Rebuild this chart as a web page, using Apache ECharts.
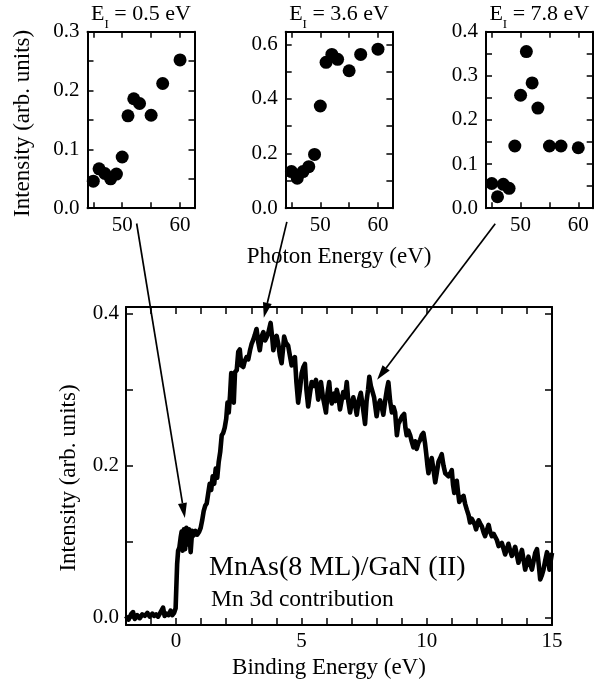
<!DOCTYPE html>
<html><head><meta charset="utf-8">
<script src="https://cdn.jsdelivr.net/npm/echarts@6/dist/echarts.min.js"></script>
<style>html,body{margin:0;padding:0;background:#fff}#c{width:597px;height:687px}</style>
</head><body><div id="c"></div>
<script>
// ---- data ----
const bindingEnergy = [-2.0,-1.9,-1.8,-1.72,-1.65,-1.55,-1.45,-1.35,-1.25,-1.15,-1.05,-0.95,-0.88,-0.8,-0.72,-0.65,-0.58,-0.52,-0.46,-0.38,-0.3,-0.22,-0.15,-0.08,-0.02,
0.04,0.08,0.13,0.18,0.22,0.26,0.31,0.36,0.41,0.46,0.52,0.58,0.64,0.7,0.77,0.84,0.92,0.98,
1.04,1.1,1.16,1.22,1.28,1.34,1.4,1.46,1.52,1.58,1.64,1.7,1.76,1.82,1.88,1.94,
2.0,2.05,2.1,2.15,2.2,2.25,2.3,2.35,2.42,2.48,2.54,2.6,2.68,2.74,2.81,2.88,2.95,
3.01,3.08,3.14,3.21,3.28,3.34,3.41,3.48,3.55,3.61,3.68,3.77,3.83,3.88,3.95,
4.01,4.08,4.14,4.21,4.27,4.31,4.38,4.47,4.54,4.61,4.68,4.74,4.8,4.87,4.94,
5.01,5.08,5.14,5.2,5.27,5.34,5.41,5.5,5.58,5.67,5.73,5.78,5.86,5.92,5.98,
6.04,6.11,6.16,6.21,6.3,6.36,6.41,6.48,6.54,6.6,6.67,6.74,6.81,6.87,6.94,
7.01,7.07,7.14,7.21,7.28,7.37,7.44,7.5,7.54,7.6,7.66,7.71,7.77,7.83,7.9,7.96,
8.0,8.07,8.14,8.2,8.27,8.34,8.41,8.47,8.54,8.61,8.68,8.74,8.81,8.87,8.94,
9.02,9.1,9.15,9.2,9.27,9.34,9.4,9.47,9.54,9.6,9.67,9.74,9.8,9.87,9.93,9.98,
10.03,10.07,10.13,10.2,10.27,10.34,10.4,10.47,10.54,10.6,10.67,10.74,10.8,10.87,10.94,
11.0,11.05,11.1,11.15,11.2,11.25,11.3,11.38,11.47,11.53,11.6,11.67,11.73,11.8,11.87,11.92,11.97,
12.02,12.07,12.13,12.2,12.27,12.33,12.4,12.47,12.53,12.6,12.67,12.73,12.8,12.87,12.93,
13.0,13.07,13.13,13.2,13.26,13.33,13.4,13.47,13.53,13.6,13.66,13.73,13.8,13.87,13.93,
14.0,14.06,14.13,14.2,14.27,14.33,14.4,14.47,14.53,14.6,14.66,14.73,14.8,14.85,14.9,14.95,15.0];
const mnIntensity = [0.002,-0.003,0.004,0.007,-0.002,0.003,-0.001,0.004,0.002,0.006,0.001,0.005,0.002,0.004,0.001,0.005,0.003,0.013,0.002,0.005,0.003,0.009,0.003,0.006,0.012,
0.07,0.088,0.092,0.105,0.113,0.088,0.116,0.09,0.118,0.096,0.116,0.086,0.114,0.108,0.114,0.109,0.113,0.118,
0.128,0.14,0.147,0.15,0.163,0.176,0.168,0.186,0.176,0.196,0.184,0.205,0.218,0.24,0.243,0.25,
0.262,0.283,0.27,0.292,0.322,0.3,0.283,0.323,0.326,0.35,0.353,0.332,0.33,0.338,0.343,0.34,0.352,
0.36,0.366,0.372,0.38,0.362,0.352,0.37,0.376,0.365,0.369,0.375,0.388,0.37,0.352,0.365,
0.371,0.36,0.345,0.335,0.355,0.37,0.362,0.358,0.345,0.332,0.34,0.343,0.31,0.283,0.3,
0.322,0.33,0.334,0.3,0.278,0.295,0.31,0.305,0.313,0.287,0.3,0.31,0.29,0.28,0.27,
0.295,0.31,0.29,0.282,0.295,0.285,0.3,0.29,0.274,0.285,0.297,0.29,0.31,0.285,0.27,
0.283,0.29,0.28,0.267,0.285,0.296,0.28,0.265,0.255,0.285,0.3,0.317,0.305,0.298,0.29,0.275,
0.265,0.28,0.286,0.278,0.267,0.285,0.3,0.31,0.285,0.27,0.277,0.27,0.24,0.255,0.256,
0.265,0.268,0.25,0.24,0.246,0.24,0.232,0.224,0.232,0.222,0.23,0.234,0.24,0.243,0.23,0.216,
0.2,0.19,0.2,0.21,0.195,0.178,0.19,0.205,0.21,0.215,0.2,0.19,0.188,0.186,0.19,
0.194,0.175,0.164,0.175,0.18,0.165,0.152,0.157,0.16,0.15,0.142,0.135,0.125,0.13,0.13,0.122,0.116,
0.122,0.128,0.124,0.12,0.112,0.107,0.115,0.122,0.113,0.107,0.11,0.112,0.102,0.094,0.096,
0.098,0.09,0.083,0.09,0.097,0.088,0.081,0.087,0.093,0.082,0.072,0.08,0.089,0.075,0.063,
0.072,0.08,0.07,0.063,0.075,0.085,0.09,0.07,0.05,0.056,0.063,0.075,0.086,0.075,0.063,0.075,0.085];

const photonEnergy = [45,46,47,48,49,50,51,52,53,55,57,60];
const intensityE05 = [0.046,0.067,0.059,0.050,0.058,0.087,0.157,0.186,0.178,0.158,0.212,0.252];
const intensityE36 = [0.134,0.110,0.134,0.152,0.197,0.374,0.534,0.563,0.545,0.503,0.563,0.582];
const intensityE78 = [0.056,0.026,0.054,0.045,0.141,0.256,0.355,0.284,0.227,0.141,0.141,0.137];
const insetEnergies = ['0.5','3.6','7.8'];

const mainXTicks = [-2,-1,0,1,2,3,4,5,6,7,8,9,10,11,12,13,14,15];
const mainXLabels = [0,5,10,15];
const mainYTicks = [0,0.1,0.2,0.3,0.4];
const mainYLabels = [0,0.2,0.4];
const insetXTicks = [45,50,55,60];
const insetXLabels = [50,60];
const inset1YTicks = [0,0.05,0.1,0.15,0.2,0.25,0.3];
const inset1YLabels = [0,0.1,0.2,0.3];
const inset2YTicks = [0,0.1,0.2,0.3,0.4,0.5,0.6];
const inset2YLabels = [0,0.2,0.4,0.6];
const inset3YTicks = [0,0.05,0.1,0.15,0.2,0.25,0.3,0.35,0.4];
const inset3YLabels = [0,0.1,0.2,0.3,0.4];

// arrows: tail point in each inset's coordinates, tip point on main curve
const arrowTails = [[52.5,-0.026],[44.2,-0.05],[45.6,-0.035]];
const arrowTips = [[0.35,0.131],[3.5,0.395],[8.02,0.313]];

// ---- chart ----
const FONT = "'Liberation Serif','DejaVu Serif',serif";
const BLACK = '#000';
const chart = echarts.init(document.getElementById('c'), null, {renderer:'canvas'});

const grids = [
  {left:126, top:307, width:426, height:318},
  {left:87.5, top:31.7, width:107, height:176.5},
  {left:285.7, top:31.7, width:106.7, height:176.5},
  {left:486, top:31.7, width:106.7, height:176.5}
];

function ax(gi, min, max, position, ticks, labels, o) {
  o = o || {};
  return {
    type:'value', gridIndex:gi, min:min, max:max, position:position,
    axisLine:{show:true, onZero:false, lineStyle:{color:BLACK, width:2}},
    axisTick:{show:true, inside:true, length:o.tickLen||7, customValues:ticks, lineStyle:{color:BLACK, width:1.5}},
    axisLabel: labels ? {show:true, customValues:labels, formatter:o.fmt, color:BLACK, fontFamily:FONT, fontSize:21, margin:o.margin||7} : {show:false},
    splitLine:{show:false},
    name:o.name||'', nameLocation:'middle', nameGap:o.nameGap||30,
    nameTextStyle:{color:BLACK, fontFamily:FONT, fontSize:23, padding:o.namePad||0}
  };
}
const f1 = v => v.toFixed(1);
const f0 = v => String(v);

const xAxis = [
  ax(0,-2,15,'bottom',mainXTicks,mainXLabels,{fmt:f0,margin:6,name:'Binding Energy (eV)',nameGap:31,namePad:[0,20,0,0]}),
  ax(0,-2,15,'top',mainXTicks,null),
  ax(1,44,62.5,'bottom',insetXTicks,insetXLabels,{fmt:f0,tickLen:6,margin:7}),
  ax(1,44,62.5,'top',insetXTicks,null,{tickLen:6}),
  ax(2,44,62.5,'bottom',insetXTicks,insetXLabels,{fmt:f0,tickLen:6,margin:7,name:'Photon Energy (eV)',nameGap:37}),
  ax(2,44,62.5,'top',insetXTicks,null,{tickLen:6}),
  ax(3,44,62.5,'bottom',insetXTicks,insetXLabels,{fmt:f0,tickLen:6,margin:7}),
  ax(3,44,62.5,'top',insetXTicks,null,{tickLen:6})
];
const yAxis = [
  ax(0,-0.01,0.409,'left',mainYTicks,mainYLabels,{fmt:f1,margin:7,name:'Intensity (arb. units)',nameGap:46,namePad:[0,24,0,0]}),
  ax(0,-0.01,0.409,'right',mainYTicks,null),
  ax(1,0,0.3,'left',inset1YTicks,inset1YLabels,{fmt:f1,tickLen:6,margin:8,name:'Intensity (arb. units)',nameGap:53,namePad:[0,7,0,0]}),
  ax(1,0,0.3,'right',inset1YTicks,null,{tickLen:6}),
  ax(2,0,0.646,'left',inset2YTicks,inset2YLabels,{fmt:f1,tickLen:6,margin:8}),
  ax(2,0,0.646,'right',inset2YTicks,null,{tickLen:6}),
  ax(3,0,0.4,'left',inset3YTicks,inset3YLabels,{fmt:f1,tickLen:6,margin:8}),
  ax(3,0,0.4,'right',inset3YTicks,null,{tickLen:6})
];

const mainData = bindingEnergy.map((x,i) => [x, mnIntensity[i]]);
const insetSets = [intensityE05, intensityE36, intensityE78];
const series = [{
  type:'line', xAxisIndex:0, yAxisIndex:0, data:mainData, showSymbol:false, symbol:'none',
  lineStyle:{color:BLACK, width:4.6, join:'round', opacity:1}, animation:false, clip:true
}];
insetSets.forEach((arr,k) => {
  series.push({
    type:'scatter', xAxisIndex:2*(k+1), yAxisIndex:2*(k+1),
    data:photonEnergy.map((x,i)=>[x,arr[i]]),
    symbol:'circle', symbolSize:13, itemStyle:{color:BLACK, opacity:1}, animation:false
  });
});

chart.setOption({animation:false, backgroundColor:'#fff', grid:grids, xAxis:xAxis, yAxis:yAxis, series:series});

// annotations
const graphic = [];
[1,2,3].forEach((gi,k) => {
  const g = grids[gi];
  graphic.push({
    type:'text', x:g.left + g.width/2, y:3,
    style:{
      text:'{e|E}{s|I}{e| = ' + insetEnergies[k] + ' eV}',
      align:'center', verticalAlign:'top',
      rich:{
        e:{fontFamily:FONT, fontSize:22, fill:BLACK, verticalAlign:'top', lineHeight:22},
        s:{fontFamily:FONT, fontSize:13, fill:BLACK, verticalAlign:'top', padding:[15,0,0,0], lineHeight:13}
      }
    }
  });
});
graphic.push({type:'text', x:209, y:568, style:{text:'MnAs(8 ML)/GaN (II)', fontFamily:FONT, fontSize:28, fill:BLACK, align:'left', verticalAlign:'middle'}});
graphic.push({type:'text', x:211, y:600, style:{text:'Mn 3d contribution', fontFamily:FONT, fontSize:23.5, fill:BLACK, align:'left', verticalAlign:'middle'}});

arrowTails.forEach((tail,k) => {
  const a = chart.convertToPixel({seriesIndex:k+1}, tail);
  const b = chart.convertToPixel({seriesIndex:0}, arrowTips[k]);
  const dx = b[0]-a[0], dy = b[1]-a[1], L = Math.sqrt(dx*dx+dy*dy);
  const ux = dx/L, uy = dy/L, head = 15, hw = 4.5;
  const bx = b[0]-ux*head, by = b[1]-uy*head;
  graphic.push({type:'line', shape:{x1:a[0], y1:a[1], x2:bx, y2:by}, style:{stroke:BLACK, lineWidth:1.7}, z:100});
  graphic.push({type:'polygon', shape:{points:[[b[0],b[1]],[bx-uy*hw, by+ux*hw],[bx+uy*hw, by-ux*hw]]}, style:{fill:BLACK}, z:100});
});
chart.setOption({graphic:graphic});
</script></body></html>
